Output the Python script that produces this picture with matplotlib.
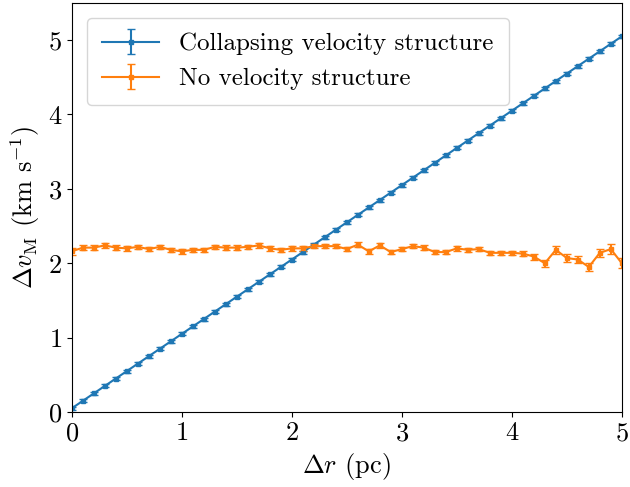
import matplotlib
matplotlib.use("Agg")
import matplotlib.pyplot as plt

plt.rcParams['font.family'] = 'serif'
plt.rcParams['font.serif'] = ['cmr10']
plt.rcParams['mathtext.fontset'] = 'cm'
plt.rcParams['axes.unicode_minus'] = False
plt.rcParams['axes.formatter.use_mathtext'] = True

dr = [0.0, 0.1, 0.2, 0.3, 0.4, 0.5, 0.6, 0.7, 0.8, 0.9,
      1.0, 1.1, 1.2, 1.3, 1.4, 1.5, 1.6, 1.7, 1.8, 1.9,
      2.0, 2.1, 2.2, 2.3, 2.4, 2.5, 2.6, 2.7, 2.8, 2.9,
      3.0, 3.1, 3.2, 3.3, 3.4, 3.5, 3.6, 3.7, 3.8, 3.9,
      4.0, 4.1, 4.2, 4.3, 4.4, 4.5, 4.6, 4.7, 4.8, 4.9, 5.0]

collapse_v = [0.05, 0.15, 0.25, 0.35, 0.45, 0.55, 0.65, 0.75, 0.85, 0.95,
              1.05, 1.15, 1.25, 1.35, 1.45, 1.55, 1.65, 1.75, 1.85, 1.95,
              2.05, 2.15, 2.25, 2.35, 2.45, 2.55, 2.65, 2.75, 2.85, 2.95,
              3.05, 3.15, 3.25, 3.35, 3.45, 3.55, 3.65, 3.75, 3.85, 3.95,
              4.05, 4.15, 4.25, 4.35, 4.45, 4.55, 4.65, 4.75, 4.85, 4.95, 5.05]
collapse_err = [0.02] * 51

none_v = [2.16, 2.21, 2.21, 2.24, 2.21, 2.20, 2.22, 2.19, 2.22, 2.18,
          2.16, 2.18, 2.18, 2.22, 2.21, 2.21, 2.22, 2.24, 2.20, 2.18,
          2.20, 2.20, 2.23, 2.23, 2.23, 2.19, 2.25, 2.16, 2.24, 2.15,
          2.19, 2.23, 2.21, 2.15, 2.15, 2.20, 2.18, 2.19, 2.14, 2.14,
          2.14, 2.13, 2.09, 2.00, 2.18, 2.07, 2.05, 1.95, 2.14, 2.19, 2.00]
none_err = [0.05, 0.03, 0.03, 0.03, 0.03, 0.03, 0.03, 0.03, 0.03, 0.03,
            0.03, 0.03, 0.03, 0.03, 0.03, 0.03, 0.03, 0.03, 0.03, 0.03,
            0.03, 0.03, 0.03, 0.03, 0.03, 0.03, 0.03, 0.03, 0.03, 0.03,
            0.03, 0.03, 0.03, 0.03, 0.03, 0.03, 0.03, 0.03, 0.03, 0.03,
            0.03, 0.03, 0.04, 0.05, 0.05, 0.05, 0.05, 0.06, 0.05, 0.07, 0.07]

fig = plt.figure(figsize=(6.3, 4.87), dpi=100)
ax = fig.add_axes([0.114, 0.154, 0.873, 0.840])

ax.errorbar(dr, collapse_v, yerr=collapse_err, marker='s', markersize=3.5,
            capsize=3, color='#1f77b4', label='Collapsing velocity structure')
ax.errorbar(dr, none_v, yerr=none_err, marker='s', markersize=3.5,
            capsize=3, color='#ff7f0e', label='No velocity structure')

ax.set_xlim(0, 5)
ax.set_ylim(0, 5.5)
ax.set_xticks([0, 1, 2, 3, 4, 5])
ax.set_yticks([0, 1, 2, 3, 4, 5])
ax.tick_params(labelsize=19)
ax.set_xlabel(r'$\Delta r$ (pc)', fontsize=19)
ax.set_ylabel(r'$\Delta v_\mathrm{M}$ (km s$^{-1}$)', fontsize=19)
ax.legend(loc='upper left', fontsize=18, handlelength=2.3, borderpad=0.6,
          borderaxespad=0.6)

fig.savefig('out.png', dpi=100)
